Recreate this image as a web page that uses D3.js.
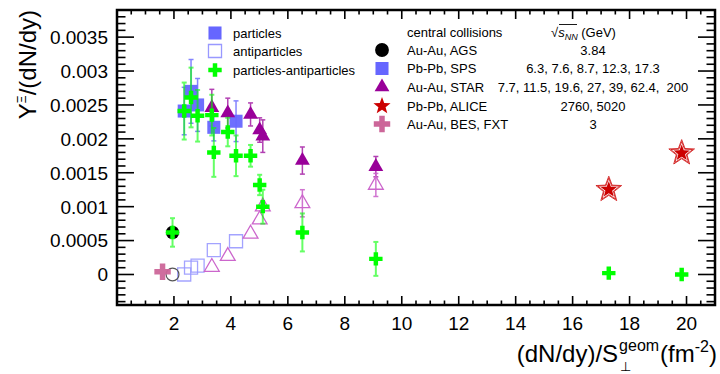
<!DOCTYPE html>
<html>
<head>
<meta charset="utf-8">
<script src="https://cdn.jsdelivr.net/npm/d3@7"></script>
<style>
  body { margin: 0; background: #fff; }
  svg { font-family: "Liberation Sans", Arial, sans-serif; }
</style>
</head>
<body>
<svg id="chart" width="720" height="374"></svg>
<script>
// ---- data ----
const agsX = [1.95];
const agsPart = [0.00062];
const agsAnti = [0.0];
const agsDiff = [0.00062];
const agsDiffErr = [0.00021];

const spsX = [2.36, 2.60, 2.83, 3.40, 4.18];
const spsPart = [0.00241, 0.00270, 0.00250, 0.00217, 0.00226];
const spsPartErr = [0.00035, 0.00047, 0.00039, 0.00020, 0.00030];
const spsAnti = [0.0, 0.00010, 0.00013, 0.00036, 0.00049];
const spsDiff = [0.00241, 0.00261, 0.00234, 0.00180, 0.00175];
const spsDiffErr = [0.00042, 0.00044, 0.00038, 0.00036, 0.00030];

const starX = [3.33, 3.89, 4.69, 5.01, 5.12, 6.51, 9.09];
const starPart = [0.00246, 0.00238, 0.00236, 0.00213, 0.00204, 0.00168, 0.00159];
const starPartErr = [0.00027, 0.00022, 0.00017, 0.00018, 0.00024, 0.00020, 0.00015];
const starAnti = [0.00011, 0.00027, 0.00060, 0.00081, 0.00100, 0.00105, 0.00132];
const starAntiErr = [0, 0, 0, 0, 0, 0.00020, 0.00017];
const starDiff = [0.00235, 0.00210, 0.00175, 0.00132, 0.00100, 0.00062, 0.00023];
const starDiffErr = [0.00030, 0.00021, 0.00016, 0.00015, 0.00025, 0.00028, 0.00025];

const aliceX = [17.27, 19.83];
const alicePart = [0.00125, 0.00179];
const aliceAnti = [0.00125, 0.00179];
const aliceDiff = [0.00002, 0.0];

const fxtX = [1.60];
const fxtPart = [0.00004];

const xTicks = [2, 4, 6, 8, 10, 12, 14, 16, 18, 20];
const yTicks = [0, 0.0005, 0.001, 0.0015, 0.002, 0.0025, 0.003, 0.0035];
const yTickLabels = ['0', '0.0005', '0.001', '0.0015', '0.002', '0.0025', '0.003', '0.0035'];

const legendSpecies = ['particles', 'antiparticles', 'particles-antiparticles'];
const legendSystems = ['Au-Au, AGS', 'Pb-Pb, SPS', 'Au-Au, STAR', 'Pb-Pb, ALICE', 'Au-Au, BES, FXT'];
const legendEnergies = ['3.84', '6.3, 7.6, 8.7, 12.3, 17.3', '7.7, 11.5, 19.6, 27, 39, 62.4,  200', '2760, 5020', '3'];

// ---- layout ----
const FRAME = {left: 117, right: 715, top: 10, bottom: 305};
const C = {
  blue: '#6666ff', blueOpen: '#9999ff',
  purple: '#990099', purpleOpen: '#cc66cc',
  green: '#00ff00', pink: '#cc6699', red: '#cc0000'
};

const svg = d3.select('#chart');

const x = d3.scaleLinear().domain([0, 21]).range([FRAME.left, FRAME.right]);
const y = d3.scaleLinear().domain([-0.00045, 0.0039]).range([FRAME.bottom, FRAME.top]);

// ticks (ROOT style, inside the frame on all four sides)
const axes = svg.append('g').attr('stroke', '#000');
const xMinor = d3.range(0.5, 21, 0.5);
const yMinor = d3.range(-0.0004, 0.00391, 0.0001);
const isMajorX = v => Math.abs(v / 2 - Math.round(v / 2)) < 1e-6;
const isMajorY = v => Math.abs(v / 0.0005 - Math.round(v / 0.0005)) < 1e-6;

xMinor.forEach(v => {
  const len = isMajorX(v) ? 9 : 4.5;
  axes.append('line').attr('x1', x(v)).attr('x2', x(v))
    .attr('y1', FRAME.bottom).attr('y2', FRAME.bottom - len).attr('stroke-width', 1.6);
  axes.append('line').attr('x1', x(v)).attr('x2', x(v))
    .attr('y1', FRAME.top).attr('y2', FRAME.top + len).attr('stroke-width', 1.6);
});
yMinor.forEach(v => {
  const len = isMajorY(v) ? 17 : 8.5;
  axes.append('line').attr('y1', y(v)).attr('y2', y(v))
    .attr('x1', FRAME.left).attr('x2', FRAME.left + len).attr('stroke-width', 1.6);
  axes.append('line').attr('y1', y(v)).attr('y2', y(v))
    .attr('x1', FRAME.right).attr('x2', FRAME.right - len).attr('stroke-width', 1.6);
});

axes.append('rect')
  .attr('x', FRAME.left).attr('y', FRAME.top)
  .attr('width', FRAME.right - FRAME.left).attr('height', FRAME.bottom - FRAME.top)
  .attr('fill', 'none').attr('stroke-width', 2.5);

svg.append('g').selectAll('text').data(xTicks).join('text')
  .attr('x', d => x(d)).attr('y', 330)
  .attr('text-anchor', 'middle').attr('font-size', 19)
  .text(d => d);

svg.append('g').selectAll('text').data(yTicks).join('text')
  .attr('x', 108).attr('y', d => y(d)).attr('dy', '0.36em')
  .attr('text-anchor', 'end').attr('font-size', 19)
  .text((d, i) => yTickLabels[i]);

// y title
const yTitle = svg.append('text')
  .attr('transform', 'translate(36,10) rotate(-90)')
  .attr('text-anchor', 'end').attr('font-size', 24);
yTitle.append('tspan').text('Y');
yTitle.append('tspan').attr('font-size', 12).attr('dy', -10).text('Ξ');
yTitle.append('tspan').attr('dy', 10).text('/(dN/dy)');

// x title, laid out piece by piece
const xt = svg.append('g').attr('font-size', 24);
const t1 = xt.append('text').attr('x', 0).attr('y', 0).text('(dN/dy)/S');
const w1 = t1.node().getComputedTextLength();
const t2 = xt.append('text').attr('x', w1 + 1).attr('y', -11).attr('font-size', 16).text('geom');
const w2 = t2.node().getComputedTextLength();
xt.append('text').attr('x', w1 + 2).attr('y', 9).attr('font-size', 13).text('⊥');
const t4 = xt.append('text').attr('x', w1 + w2 + 2).attr('y', 0).text('(fm');
const w4 = t4.node().getComputedTextLength();
const t5 = xt.append('text').attr('x', w1 + w2 + 2 + w4).attr('y', -10).attr('font-size', 16).text('-2');
const w5 = t5.node().getComputedTextLength();
const t6 = xt.append('text').attr('x', w1 + w2 + 2 + w4 + w5).attr('y', 0).text(')');
const wTot = w1 + w2 + 2 + w4 + w5 + t6.node().getComputedTextLength();
xt.attr('transform', `translate(${717 - wTot},362)`);

// ---- marker helpers ----
const sq = d3.symbol().type(d3.symbolSquare).size(170);
const tri = d3.symbol().type(d3.symbolTriangle).size(95);
const cross = d3.symbol().type(d3.symbolCross).size(100);
const bigCross = d3.symbol().type(d3.symbolCross).size(150);

function starPath(R) {
  const r = R * 0.42;
  const pts = [];
  for (let i = 0; i < 10; i++) {
    const a = -Math.PI / 2 + i * Math.PI / 5;
    const rr = i % 2 === 0 ? R : r;
    pts.push([rr * Math.cos(a), rr * Math.sin(a)]);
  }
  return 'M' + pts.map(p => p.join(',')).join('L') + 'Z';
}

const plot = svg.append('g');

function errorBars(xs, ys, errs, color, width, opacity) {
  const g = plot.append('g').attr('stroke', color).attr('stroke-width', width).attr('opacity', opacity);
  xs.forEach((xv, i) => {
    if (!errs[i]) return;
    const x0 = x(xv), yl = y(ys[i] - errs[i]), yh = y(ys[i] + errs[i]);
    g.append('line').attr('x1', x0).attr('x2', x0).attr('y1', yl).attr('y2', yh);
    g.append('line').attr('x1', x0 - 2.5).attr('x2', x0 + 2.5).attr('y1', yl).attr('y2', yl);
    g.append('line').attr('x1', x0 - 2.5).attr('x2', x0 + 2.5).attr('y1', yh).attr('y2', yh);
  });
}

function markers(xs, ys, path, fill, stroke, sw, opacity) {
  plot.append('g').selectAll('path').data(xs).join('path')
    .attr('d', path)
    .attr('transform', (d, i) => `translate(${x(d)},${y(ys[i])})`)
    .attr('fill', fill).attr('stroke', stroke).attr('stroke-width', sw)
    .attr('opacity', opacity);
}

// error bars
errorBars(spsX, spsPart, spsPartErr, C.blue, 1.5, 0.8);
errorBars(starX, starPart, starPartErr, C.purple, 1.5, 0.75);
errorBars(starX, starAnti, starAntiErr, C.purpleOpen, 1.5, 0.9);

// antiparticles (open)
markers(spsX, spsAnti, sq, 'none', C.blueOpen, 1.3, 0.9);
markers(starX, starAnti, tri, 'none', C.purpleOpen, 1.3, 1);
markers(agsX, agsAnti, d3.symbol().type(d3.symbolCircle).size(130), 'none', '#555', 1.2, 1);
markers(aliceX, aliceAnti, starPath(13.5), 'none', C.red, 0.9, 0.85);
markers(aliceX, aliceAnti, starPath(11.5), 'none', C.red, 0.9, 0.85);

// particles (filled)
markers(fxtX, fxtPart, bigCross, C.pink, 'none', 0, 0.95);
markers(spsX, spsPart, sq, C.blue, 'none', 0, 0.95);
markers(starX, starPart, tri, C.purple, 'none', 0, 1);
markers(agsX, agsPart, d3.symbol().type(d3.symbolCircle).size(140), '#000', 'none', 0, 1);
markers(aliceX, alicePart, starPath(8.5), C.red, 'none', 0, 1);

// particles - antiparticles
errorBars(agsX, agsDiff, agsDiffErr, C.green, 2, 0.6);
errorBars(spsX, spsDiff, spsDiffErr, C.green, 2, 0.6);
errorBars(starX, starDiff, starDiffErr, C.green, 2, 0.6);
markers(agsX, agsDiff, cross, C.green, 'none', 0, 1);
markers(spsX, spsDiff, cross, C.green, 'none', 0, 1);
markers(starX, starDiff, cross, C.green, 'none', 0, 1);
markers(aliceX, aliceDiff, cross, C.green, 'none', 0, 1);

// ---- legend: species ----
const leg1 = svg.append('g').attr('font-size', 13);
const leg1Y = [33, 51, 70];
const leg1Sym = [
  {d: sq(), fill: C.blue, stroke: 'none'},
  {d: sq(), fill: 'none', stroke: C.blueOpen},
  {d: cross(), fill: C.green, stroke: 'none'}
];
legendSpecies.forEach((s, i) => {
  leg1.append('path').attr('d', leg1Sym[i].d)
    .attr('transform', `translate(215,${leg1Y[i]})`)
    .attr('fill', leg1Sym[i].fill).attr('stroke', leg1Sym[i].stroke).attr('stroke-width', 1.3);
  leg1.append('text').attr('x', 233).attr('y', leg1Y[i]).attr('dy', '0.36em').text(s);
});

// ---- legend: systems ----
const leg2 = svg.append('g').attr('font-size', 13);
leg2.append('text').attr('x', 407).attr('y', 32).attr('dy', '0.36em').text('central collisions');
const rad = leg2.append('text').attr('x', 551).attr('y', 32).attr('dy', '0.36em');
rad.append('tspan').text('√');
rad.append('tspan').attr('font-style', 'italic').text('s');
rad.append('tspan').attr('font-style', 'italic').attr('font-size', 9).attr('dy', 3).text('NN');
rad.append('tspan').attr('dy', -3).text(' (GeV)');
leg2.append('line').attr('x1', 559).attr('x2', 577).attr('y1', 24.5).attr('y2', 24.5)
  .attr('stroke', '#000').attr('stroke-width', 0.9);

const leg2Y = [50, 68.5, 87, 106, 124];
const leg2Sym = [
  {d: d3.symbol().type(d3.symbolCircle).size(150)(), fill: '#000'},
  {d: sq(), fill: C.blue},
  {d: tri(), fill: C.purple},
  {d: starPath(9), fill: C.red},
  {d: bigCross(), fill: C.pink}
];
legendSystems.forEach((s, i) => {
  leg2.append('path').attr('d', leg2Sym[i].d)
    .attr('transform', `translate(382,${leg2Y[i]})`)
    .attr('fill', leg2Sym[i].fill);
  leg2.append('text').attr('x', 407).attr('y', leg2Y[i]).attr('dy', '0.36em').text(s);
  leg2.append('text').attr('x', 593).attr('y', leg2Y[i]).attr('dy', '0.36em')
    .attr('text-anchor', 'middle').attr('xml:space', 'preserve').style('white-space', 'pre')
    .text(legendEnergies[i]);
});
</script>
</body>
</html>
